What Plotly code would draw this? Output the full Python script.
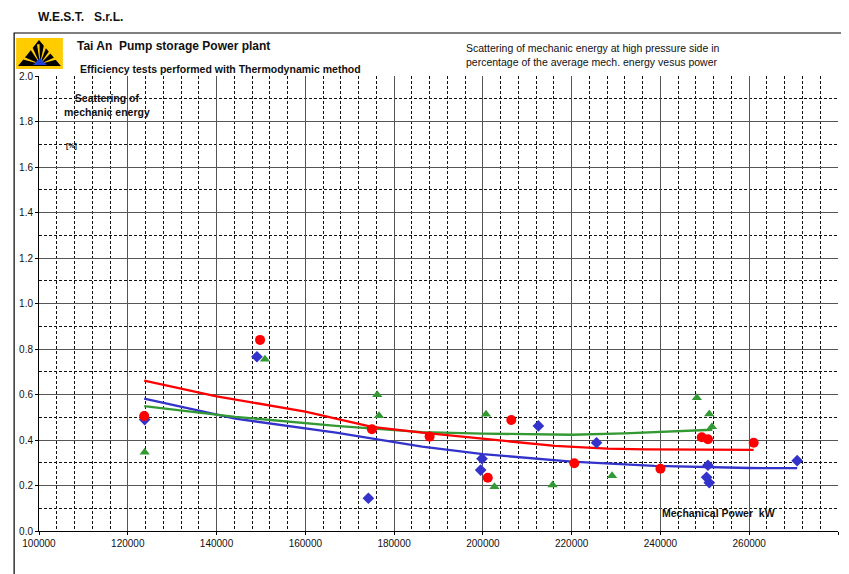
import plotly.graph_objects as go

# ---------------- data ----------------
red_x = [123700, 149800, 175000, 188000, 201100, 206400, 220600, 240000, 249300, 250700, 261000]
red_y = [0.505, 0.84, 0.447, 0.415, 0.234, 0.488, 0.298, 0.274, 0.412, 0.403, 0.388]

blue_x = [123800, 149100, 174200, 199800, 199500, 212500, 225600, 250700, 250400, 251000, 270800]
blue_y = [0.49, 0.766, 0.144, 0.318, 0.268, 0.462, 0.388, 0.289, 0.236, 0.212, 0.309]

green_x = [123800, 150900, 176200, 176600, 200700, 202600, 215700, 229100, 248200, 251000, 251600]
green_y = [0.346, 0.755, 0.599, 0.507, 0.513, 0.195, 0.202, 0.243, 0.586, 0.514, 0.458]

red_trend_x = [123700, 140000, 160000, 175000, 186300, 200000, 216200, 228000, 236400, 250000, 261000]
red_trend_y = [0.661, 0.592, 0.525, 0.458, 0.432, 0.404, 0.374, 0.362, 0.359, 0.358, 0.357]

blue_trend_x = [123700, 144200, 166900, 186300, 200000, 220000, 238600, 249800, 260000, 270800]
blue_trend_y = [0.582, 0.494, 0.432, 0.371, 0.338, 0.305, 0.286, 0.280, 0.277, 0.276]

green_trend_x = [123700, 144200, 166900, 186300, 200000, 220000, 231900, 240100, 249800, 251700]
green_trend_y = [0.549, 0.502, 0.462, 0.435, 0.428, 0.423, 0.429, 0.435, 0.441, 0.445]

x_ticks = [100000, 120000, 140000, 160000, 180000, 200000, 220000, 240000, 260000, 280000]
y_ticks = [0.0, 0.2, 0.4, 0.6, 0.8, 1.0, 1.2, 1.4, 1.6, 1.8, 2.0]

RED = "#ff0000"
BLUE = "#3333cc"
GREEN = "#339933"

OFF = 8  # page body margin
W, H = 849 - OFF, 574 - OFF
L, R, T, B = 35, 838, 76, 531  # plot area in window pixels


def pxx(x):
    return (x - L) / (R - L)


def pyy(y):
    return (B - y) / (B - T)


fig = go.Figure()

fig.add_trace(go.Scatter(x=blue_trend_x, y=blue_trend_y, mode="lines",
                         line=dict(color=BLUE, width=2.3), hoverinfo="skip"))
fig.add_trace(go.Scatter(x=green_trend_x, y=green_trend_y, mode="lines",
                         line=dict(color=GREEN, width=2.3), hoverinfo="skip"))
fig.add_trace(go.Scatter(x=red_trend_x, y=red_trend_y, mode="lines",
                         line=dict(color=RED, width=2.3), hoverinfo="skip"))

fig.add_trace(go.Scatter(x=blue_x, y=blue_y, mode="markers",
                         marker=dict(symbol="diamond", size=9, color=BLUE)))
fig.add_trace(go.Scatter(x=green_x, y=green_y, mode="markers",
                         marker=dict(symbol="triangle-up", size=9, color=GREEN)))
fig.add_trace(go.Scatter(x=red_x, y=red_y, mode="markers",
                         marker=dict(symbol="circle", size=10, color=RED)))

shapes = []
# outer frame
shapes.append(dict(type="rect", xref="paper", yref="paper",
                   x0=pxx(10), x1=pxx(870), y0=pyy(33), y1=pyy(620),
                   line=dict(color="black", width=1.2), layer="below"))
# logo
shapes.append(dict(type="rect", xref="paper", yref="paper",
                   x0=pxx(12), x1=pxx(59), y0=pyy(38), y1=pyy(69),
                   fillcolor="#ffcc00", line=dict(width=0)))


def path(pts):
    return "M " + " L ".join(f"{pxx(a):.5f},{pyy(b):.5f}" for a, b in pts) + " Z"


shapes.append(dict(type="path", xref="paper", yref="paper",
                   path=path([(35, 40), (57, 66), (14, 66)]),
                   fillcolor="black", line=dict(width=0)))
for pts in [[(36, 64), (26, 49), (28.5, 47.5)],
            [(36, 64), (33, 44.5), (35.5, 44)],
            [(36, 64), (40, 45), (42.5, 46.5)],
            [(36, 64), (46, 50), (48, 52)],
            [(36, 64), (20, 57), (19, 59.5)],
            [(36, 64), (51.5, 57), (53, 59.5)]]:
    shapes.append(dict(type="path", xref="paper", yref="paper",
                       path=path(pts), fillcolor="#ffcc00", line=dict(width=0)))
shapes.append(dict(type="path", xref="paper", yref="paper",
                   path=path([(36, 58), (43, 65), (29, 65)]),
                   fillcolor="#1f3fd6", line=dict(width=0)))

FONT = "Liberation Sans, Arial"
annotations = [
    dict(text="<b>W.E.S.T.   S.r.L.</b>", x=pxx(32), y=pyy(17), xanchor="left", yanchor="middle",
         font=dict(size=12, family=FONT, color="#111")),
    dict(text="<b>Tai An  Pump storage Power plant</b>", x=pxx(71), y=pyy(46), xanchor="left", yanchor="middle",
         font=dict(size=12, family=FONT, color="#111")),
    dict(text="<b>Efficiency tests performed with Thermodynamic method</b>", x=pxx(74), y=pyy(69),
         xanchor="left", yanchor="middle",
         font=dict(size=10.5, family=FONT, color="#111")),
    dict(text="Scattering of mechanic energy at high pressure side in<br>percentage of the average mech. energy vesus power",
         x=pxx(462), y=pyy(55), xanchor="left", yanchor="middle", align="left",
         font=dict(size=10.5, family=FONT, color="#111")),
    dict(text="<b>Scattering of<br>mechanic energy</b>", x=pxx(103), y=pyy(104.5), xanchor="center",
         yanchor="middle", align="center",
         font=dict(size=10.5, family=FONT, color="#111")),
    dict(text="<b>[%]</b>", x=pxx(68), y=pyy(146), xanchor="center", yanchor="middle",
         font=dict(size=7, family=FONT, color="#111")),
    dict(text="<b>Mechanical Power  kW</b>", x=pxx(718), y=pyy(513), xanchor="center", yanchor="middle",
         font=dict(size=10.5, family=FONT, color="#111")),
]
for a in annotations:
    a.update(xref="paper", yref="paper", showarrow=False)

fig.update_layout(
    width=W, height=H,
    margin=dict(l=L - OFF, r=849 - R, t=T - OFF, b=574 - B, pad=0),
    paper_bgcolor="white", plot_bgcolor="white",
    showlegend=False,
    shapes=shapes,
    annotations=annotations,
    font=dict(family=FONT, size=10, color="#111"),
    xaxis=dict(range=[100000, 280000], tickvals=x_ticks, ticktext=[str(v) for v in x_ticks],
               showgrid=True, gridcolor="#555555", gridwidth=1.2,
               minor=dict(dtick=4000, tick0=100000, showgrid=True, gridcolor="#111111",
                          griddash="3px,2px", gridwidth=1.2),
               showline=True, linecolor="black", linewidth=1,
               ticks="outside", ticklen=3, tickcolor="black",
               zeroline=False, tickfont=dict(size=10)),
    yaxis=dict(range=[0, 2.0], tickvals=y_ticks, ticktext=[f"{v:.1f}" for v in y_ticks],
               showgrid=True, gridcolor="#555555", gridwidth=1.2,
               minor=dict(dtick=0.1, tick0=0, showgrid=True, gridcolor="#111111",
                          griddash="3px,2px", gridwidth=1.2),
               showline=True, linecolor="black", linewidth=1,
               ticks="outside", ticklen=3, tickcolor="black",
               zeroline=False, tickfont=dict(size=10)),
)

fig.write_html("out.html")
